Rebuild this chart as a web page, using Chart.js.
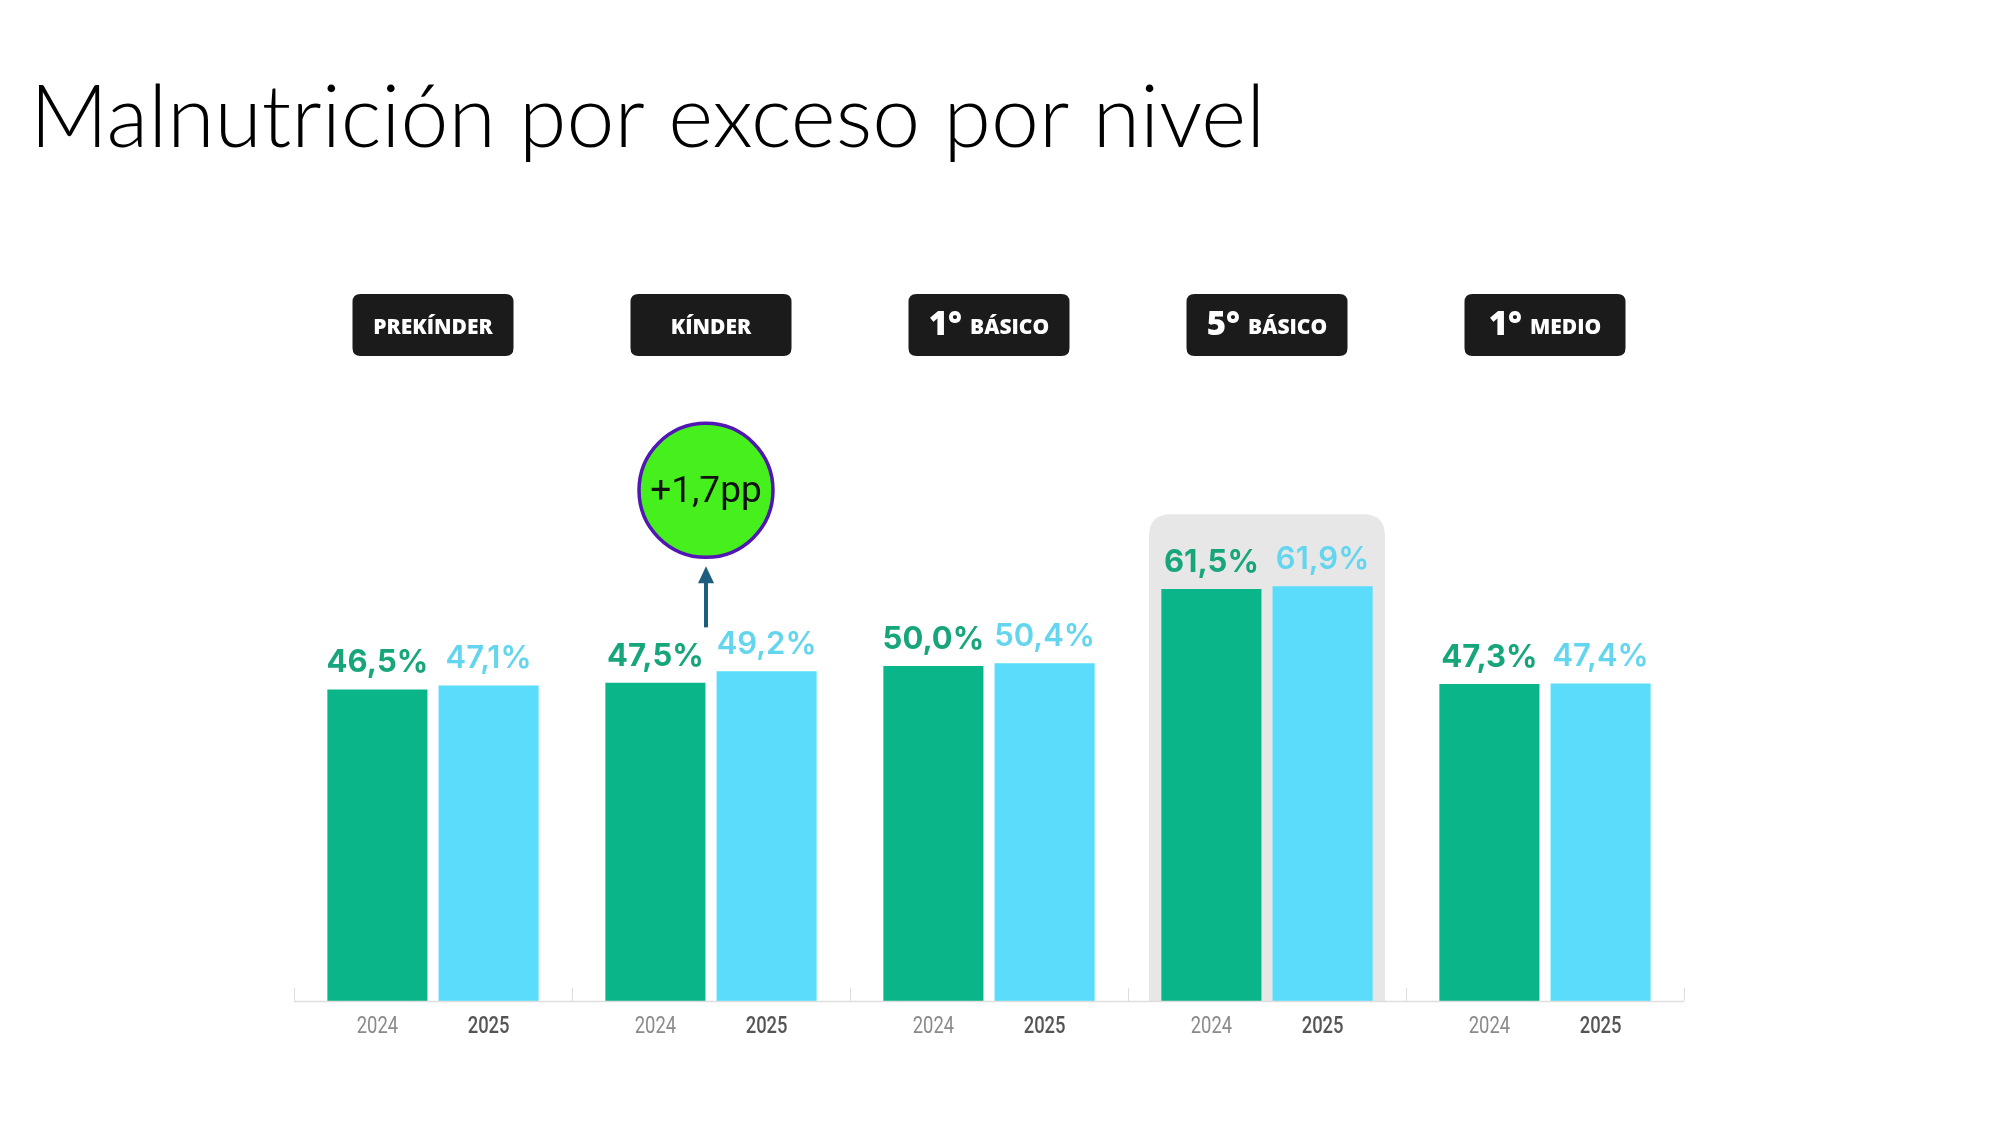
<!DOCTYPE html>
<html><head><meta charset="utf-8">
<script src="https://cdn.jsdelivr.net/npm/chart.js@4.4.1/dist/chart.umd.min.js"></script>
<style>
html,body{margin:0;padding:0;background:#fff;width:2000px;height:1125px;overflow:hidden}
canvas{display:block}
</style></head>
<body>
<canvas id="c" width="2000" height="1125"></canvas>
<script>
// ---- data ----
const titleText = 'Malnutrición por exceso por nivel';
const categories = ['PREKÍNDER', 'KÍNDER', '1° BÁSICO', '5° BÁSICO', '1° MEDIO'];
const headerBig = ['', '', '1°', '5°', '1°'];
const headerSmall = ['PREKÍNDER', 'KÍNDER', 'BÁSICO', 'BÁSICO', 'MEDIO'];
const years = ['2024', '2025'];
const values2024 = [46.5, 47.5, 50.0, 61.5, 47.3];
const values2025 = [47.1, 49.2, 50.4, 61.9, 47.4];
const highlightIndex = 3;
const annotationIndex = 1;
const yMin = 0, yMax = 100;

const fmt = v => v.toFixed(1).replace('.', ',');

const GREEN = '#0bb58a', CYAN = '#5adcfa';
const GREEN_TXT = '#17a67b', CYAN_TXT = '#63d5ef';

function roundRectPath(ctx, x, y, w, h, r, bottomRound = true) {
  ctx.beginPath();
  ctx.moveTo(x + r, y);
  ctx.lineTo(x + w - r, y);
  ctx.quadraticCurveTo(x + w, y, x + w, y + r);
  if (bottomRound) {
    ctx.lineTo(x + w, y + h - r);
    ctx.quadraticCurveTo(x + w, y + h, x + w - r, y + h);
    ctx.lineTo(x + r, y + h);
    ctx.quadraticCurveTo(x, y + h, x, y + h - r);
  } else {
    ctx.lineTo(x + w, y + h);
    ctx.lineTo(x, y + h);
  }
  ctx.lineTo(x, y + r);
  ctx.quadraticCurveTo(x, y, x + r, y);
  ctx.closePath();
}

const decor = {
  id: 'decor',
  beforeDatasetsDraw(chart) {
    const ctx = chart.ctx, x = chart.scales.x, y = chart.scales.y;
    // highlight box behind one group
    const m0 = chart.getDatasetMeta(0).data[highlightIndex];
    const m1 = chart.getDatasetMeta(1).data[highlightIndex];
    const cx = x.getPixelForValue(highlightIndex);
    const top = Math.min(m0.y, m1.y) - 72;
    const bottom = y.getPixelForValue(0);
    ctx.save();
    ctx.fillStyle = '#e7e7e7';
    roundRectPath(ctx, cx - 118, top, 236, bottom - top, 22, false);
    ctx.fill();
    ctx.restore();
  },
  afterDatasetsDraw(chart) {
    const ctx = chart.ctx, x = chart.scales.x, y = chart.scales.y;
    const base = y.getPixelForValue(0);
    const area = chart.chartArea;
    ctx.save();
    // title
    ctx.fillStyle = '#000';
    ctx.font = '300 86px Lato';
    ctx.textBaseline = 'alphabetic';
    ctx.textAlign = 'left';
    ctx.fillText(titleText, 30, 147);

    // axis line and separators
    ctx.strokeStyle = '#dedede';
    ctx.lineWidth = 1.5;
    ctx.beginPath();
    ctx.moveTo(area.left, base + 0.5);
    ctx.lineTo(area.right, base + 0.5);
    ctx.stroke();
    const step = (area.right - area.left) / categories.length;
    ctx.lineWidth = 1;
    for (let i = 0; i <= categories.length; i++) {
      const px = Math.round(area.left + i * step) + 0.5;
      ctx.beginPath();
      ctx.moveTo(px, base);
      ctx.lineTo(px, base - 13);
      ctx.stroke();
    }

    // value labels and year labels
    const txtColors = [GREEN_TXT, CYAN_TXT];
    const yearColors = ['#8a8a8a', '#555555'];
    [0, 1].forEach(d => {
      const meta = chart.getDatasetMeta(d);
      const vals = chart.data.datasets[d].data;
      meta.data.forEach((bar, i) => {
        ctx.fillStyle = txtColors[d];
        ctx.font = (d === 0 ? '700' : '600') + ' 31px Inter';
        ctx.textAlign = 'center';
        ctx.textBaseline = 'alphabetic';
        ctx.fillText(fmt(vals[i]) + '%', bar.x, bar.y - 17);

        ctx.save();
        ctx.translate(bar.x, base + 26);
        ctx.scale(0.8, 1);
        ctx.fillStyle = yearColors[d];
        ctx.font = (d === 0 ? '400' : '500') + ' 23px Roboto';
        ctx.textBaseline = 'middle';
        ctx.fillText(years[d], 0, 0);
        ctx.restore();
      });
    });

    // header boxes
    categories.forEach((c, i) => {
      const cx = x.getPixelForValue(i);
      const w = 161, h = 62, top = 294;
      ctx.fillStyle = '#1b1b1b';
      roundRectPath(ctx, cx - w / 2, top, w, h, 8);
      ctx.fill();
      ctx.fillStyle = '#fff';
      ctx.textBaseline = 'alphabetic';
      ctx.textAlign = 'left';
      const bigFont = '800 33px "Open Sans"';
      const smallFont = '800 21px "Open Sans"';
      ctx.font = bigFont;
      const wb = headerBig[i] ? ctx.measureText(headerBig[i]).width : 0;
      ctx.font = smallFont;
      const ws = ctx.measureText(headerSmall[i]).width;
      const gap = headerBig[i] ? 8 : 0;
      let sx = cx - (wb + gap + ws) / 2;
      const baseY = top + h / 2 + 9;
      if (headerBig[i]) {
        ctx.font = bigFont;
        ctx.fillText(headerBig[i], sx, baseY + 1);
        sx += wb + gap;
      }
      ctx.font = smallFont;
      ctx.fillText(headerSmall[i], sx, baseY);
    });

    // annotation bubble with arrow
    const a0 = chart.getDatasetMeta(0).data[annotationIndex];
    const a1 = chart.getDatasetMeta(1).data[annotationIndex];
    const acx = (a0.x + a1.x) / 2 - 5;
    const topBar = Math.min(a0.y, a1.y);
    const r = 67;
    const ccy = topBar - 181;
    ctx.fillStyle = '#46f01c';
    ctx.strokeStyle = '#5116b3';
    ctx.lineWidth = 3.5;
    ctx.beginPath();
    ctx.arc(acx, ccy, r, 0, Math.PI * 2);
    ctx.fill();
    ctx.stroke();
    ctx.fillStyle = '#111';
    ctx.font = '400 37px Roboto';
    ctx.textAlign = 'center';
    ctx.textBaseline = 'middle';
    const diff = values2025[annotationIndex] - values2024[annotationIndex];
    ctx.fillText('+' + fmt(diff) + 'pp', acx, ccy + 2);

    const arrowTop = ccy + r + 9;
    const arrowBottom = topBar - 44;
    ctx.strokeStyle = '#1d5d80';
    ctx.fillStyle = '#1d5d80';
    ctx.lineWidth = 4;
    ctx.beginPath();
    ctx.moveTo(acx, arrowBottom);
    ctx.lineTo(acx, arrowTop + 14);
    ctx.stroke();
    ctx.beginPath();
    ctx.moveTo(acx, arrowTop);
    ctx.lineTo(acx - 8, arrowTop + 17);
    ctx.lineTo(acx + 8, arrowTop + 17);
    ctx.closePath();
    ctx.fill();
    ctx.restore();
  }
};

new Chart(document.getElementById('c'), {
  type: 'bar',
  data: {
    labels: categories,
    datasets: [
      { label: years[0], data: values2024, backgroundColor: GREEN, categoryPercentage: 0.8, barPercentage: 0.9 },
      { label: years[1], data: values2025, backgroundColor: CYAN, categoryPercentage: 0.8, barPercentage: 0.9 }
    ]
  },
  options: {
    responsive: false,
    animation: false,
    devicePixelRatio: 1,
    layout: { padding: { left: 294, right: 316, top: 331, bottom: 124 } },
    plugins: { legend: { display: false }, tooltip: { enabled: false }, title: { display: false } },
    scales: {
      x: { display: false },
      y: { display: false, min: yMin, max: yMax }
    }
  },
  plugins: [decor]
});
</script>
</body></html>
